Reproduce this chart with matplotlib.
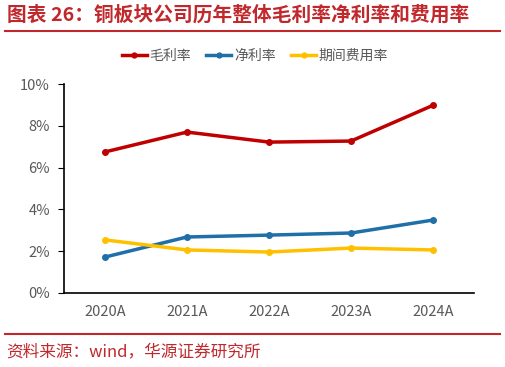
import matplotlib
matplotlib.use("Agg")
import matplotlib.pyplot as plt
from matplotlib.lines import Line2D
from matplotlib.ticker import FuncFormatter

plt.rcParams['font.family'] = ['Noto Sans CJK SC', 'DejaVu Sans']

years = ['2020A', '2021A', '2022A', '2023A', '2024A']
gross_margin = [6.75, 7.70, 7.22, 7.27, 8.98]
net_margin = [1.72, 2.68, 2.77, 2.87, 3.49]
expense_ratio = [2.54, 2.06, 1.96, 2.15, 2.06]
series_names = ['毛利率', '净利率', '期间费用率']
colors = ['#C00000', '#1F6FA8', '#FFC000']

fig = plt.figure(figsize=(5.06, 3.67), dpi=100)
ax = fig.add_axes([64 / 506, 1 - 293 / 367, 410 / 506, 209 / 367])

x = range(len(years))
for vals, c, name in zip([gross_margin, net_margin, expense_ratio], colors, series_names):
    ax.plot(x, vals, color=c, lw=2.5, marker='o', ms=4, label=name)

ax.set_xlim(-0.5, 4.5)
ax.set_ylim(0, 10)
ax.set_yticks(range(0, 11, 2))
ax.yaxis.set_major_formatter(FuncFormatter(lambda v, p: f'{v:.0f}%'))
ax.set_xticks(list(x))
ax.set_xticklabels(years)
for s in ['top', 'right']:
    ax.spines[s].set_visible(False)
for s in ['left', 'bottom']:
    ax.spines[s].set_color('black')
    ax.spines[s].set_linewidth(1.2)
ax.tick_params(axis='y', colors='#595959', labelsize=10.5, length=4, color='black', pad=6)
ax.tick_params(axis='x', colors='#595959', labelsize=10.5, length=0, pad=9)
for lab in ax.get_yticklabels():
    lab.set_color('#595959')

handles = [Line2D([0], [0], color=c, lw=2.5, marker='o', ms=3.5) for c in colors]
fig.legend(handles, series_names, loc='center', bbox_to_anchor=(255 / 506, 1 - 56 / 367), ncol=3,
           frameon=False, fontsize=10, handlelength=1.8, handletextpad=0.2, columnspacing=1.1,
           labelcolor='#595959')

# title and footer
fig.text(7 / 506, 1 - 15 / 367, '图表 26：铜板块公司历年整体毛利率净利率和费用率', color='#C0282C',
         fontsize=14.2, fontweight='bold', va='center', ha='left')
fig.add_artist(Line2D([5 / 506, 500 / 506], [1 - 31 / 367, 1 - 31 / 367], color='#C0282C', lw=1.5))
fig.add_artist(Line2D([5 / 506, 500 / 506], [1 - 334 / 367, 1 - 334 / 367], color='#C0282C', lw=1.5))
fig.text(6 / 506, 1 - 352 / 367, '资料来源：wind，华源证券研究所', color='#C0282C',
         fontsize=12, va='center', ha='left')

fig.savefig('out.png', dpi=100)
